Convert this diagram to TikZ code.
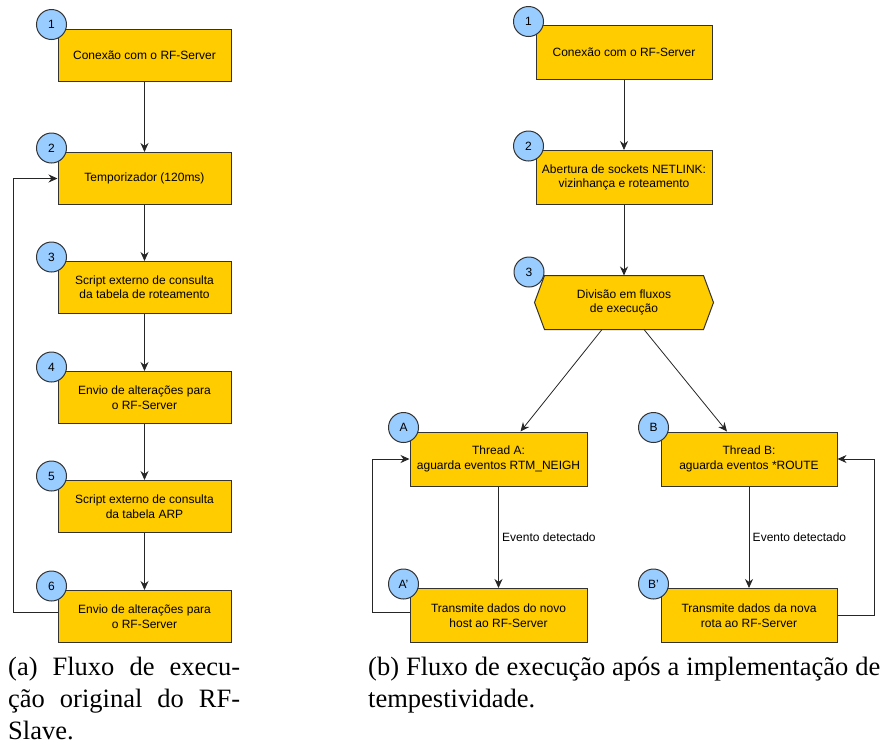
\documentclass[tikz,border=0pt]{standalone}
\usepackage{fontspec}
\setmainfont{Liberation Sans}
\newfontfamily\capfont{Liberation Serif}
\usetikzlibrary{arrows.meta,backgrounds}

\definecolor{boxyellow}{HTML}{FFCC00}
\definecolor{stepblue}{HTML}{99CCFF}
\definecolor{edgegray}{HTML}{333333}

\begin{document}
\begin{tikzpicture}[x=1pt,y=-1pt,
  every node/.style={font=\fontsize{12}{14.4}\selectfont},
  stepbox/.style={draw=edgegray,fill=boxyellow,line width=1pt,minimum width=173pt,minimum height=52pt,inner sep=2pt,align=center},
  num/.style={circle,draw=edgegray,fill=stepblue,line width=1pt,minimum size=30pt,inner sep=0pt},
  flow/.style={draw=black!85,line width=0.8pt,-{Stealth[length=9pt,width=8pt]}},
  caption/.style={anchor=north west,align=justify,inner sep=0pt,font=\capfont\fontsize{26.5}{32}\selectfont}]

   \useasboundingbox (0,0) rectangle (882,748);

   % (a) original flow
   \node[stepbox] (s1) at (144.5,55) {Conexão com o RF-Server};
   \node[stepbox] (s2) at (144.5,178.5) {Temporizador (120ms)};
   \node[stepbox] (s3) at (144.5,287.5) {Script externo de consulta\\da tabela de roteamento};
   \node[stepbox] (s4) at (144.5,397.5) {Envio de alterações para\\o RF-Server};
   \node[stepbox] (s5) at (144.5,506.5) {Script externo de consulta\\da tabela ARP};
   \node[stepbox] (s6) at (144.5,616.5) {Envio de alterações para\\o RF-Server};
   \foreach \i in {1,...,6}
     \node[num] (n\i) at ([shift={(-6,-4)}]s\i.north west) {\i};

   \draw[flow] (s1) -- (s2);
   \draw[flow] (s2) -- (s3);
   \draw[flow] (s3) -- (s4);
   \draw[flow] (s4) -- (s5);
   \draw[flow] (s5) -- (s6);
   \draw[flow] ([yshift=4pt]s6.west) -- ++(-44,0) |- (s2.west);

   % (b) flow with threads
   \node[stepbox,minimum width=176pt,minimum height=54pt] (r1) at (624,52) {Conexão com o RF-Server};
   \node[stepbox,minimum width=176pt,minimum height=54pt] (r2) at (624,177.5) {Abertura de sockets NETLINK:\\vizinhança e roteamento};
   \node[stepbox,draw=none,fill=none,minimum width=158pt,minimum height=53pt] (hx) at (624,302.5) {Divisão em fluxos\\de execução};
   \begin{scope}[on background layer]
     \filldraw[draw=edgegray,fill=boxyellow,line width=1pt] (hx.north west) -- (hx.north east) -- ([xshift=10pt]hx.east)
       -- (hx.south east) -- (hx.south west) -- ([xshift=-10pt]hx.west) -- cycle;
   \end{scope}
   \node[stepbox,minimum width=177pt,minimum height=54pt] (ta) at (498.5,459) {Thread A:\\aguarda eventos RTM\_NEIGH};
   \node[stepbox,minimum width=177pt,minimum height=54pt] (ta2) at (498.5,615.5) {Transmite dados do novo\\host ao RF-Server};
   \node[stepbox,minimum width=176pt,minimum height=54pt] (tb) at (749,459) {Thread B:\\aguarda eventos *ROUTE};
   \node[stepbox,minimum width=176pt,minimum height=54pt] (tb2) at (749,615.5) {Transmite dados da nova\\rota ao RF-Server};

   \node[num] (m1) at ([shift={(-7,-3)}]r1.north west) {1};
   \node[num] (m2) at ([shift={(-7,-4)}]r2.north west) {2};
   \node[num] (m3) at (529,272) {3};
   \node[num] (ma) at ([shift={(-6,-4)}]ta.north west) {A};
   \node[num] (ma2) at ([shift={(-6,-4)}]ta2.north west) {A'};
   \node[num] (mb) at ([shift={(-7,-4)}]tb.north west) {B};
   \node[num] (mb2) at ([shift={(-7,-4)}]tb2.north west) {B'};

   \draw[flow] (r1) -- (r2);
   \draw[flow] (r2) -- (hx);
   \draw[flow] ([xshift=-22pt]hx.south) -- ([xshift=22pt]ta.north);
   \draw[flow] ([xshift=20pt]hx.south) -- ([xshift=-22pt]tb.north);
   \draw[flow] (ta) -- node[right]{Evento detectado} (ta2);
   \draw[flow] (tb) -- node[right]{Evento detectado} (tb2);
   \draw[flow] ([yshift=3pt]ta2.west) -- ++(-37,0) |- (ta.west);
   \draw[flow] (tb2.east) -- ++(37,0) |- (tb.east);

   % captions
   \node[caption,text width=232pt] (capa) at (8,657) {(a) Fluxo de execu-\linebreak ção original do RF-\linebreak Slave.};
   \node[caption,text width=512pt] (capb) at (368,657) {(b) Fluxo de execução após a implementação de\linebreak tempestividade.};

  \end{tikzpicture}
\end{document}
